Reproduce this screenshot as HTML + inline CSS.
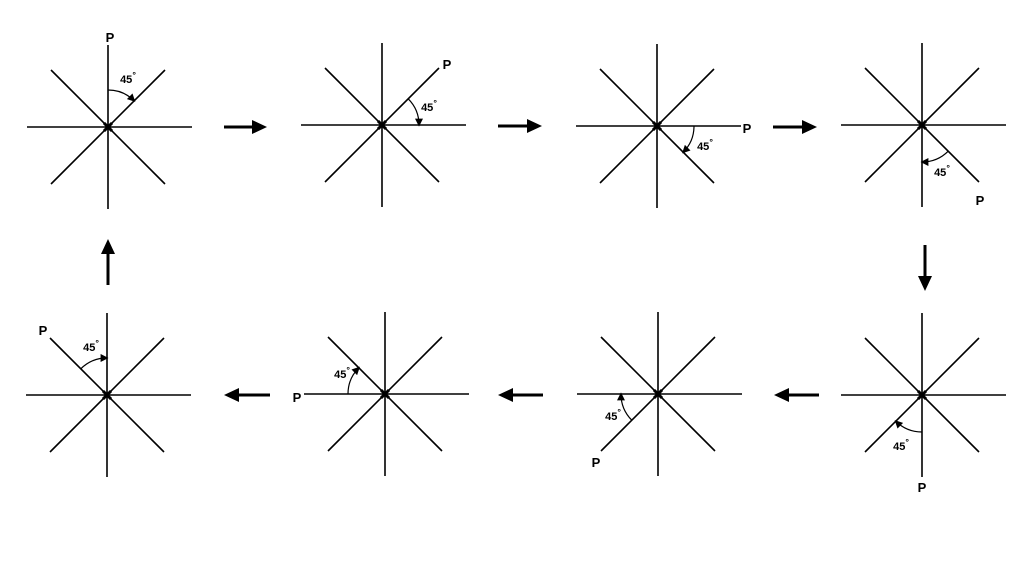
<!DOCTYPE html>
<html><head><meta charset="utf-8"><style>
html,body{margin:0;padding:0;background:#fff;}
svg{display:block;}
text{font-family:"Liberation Sans",sans-serif;font-weight:bold;fill:#000;}
</style></head><body>
<svg width="1024" height="576" viewBox="0 0 1024 576" xmlns="http://www.w3.org/2000/svg">
<defs>
<marker id="ah" viewBox="0 0 10 10" refX="8" refY="5" markerWidth="8" markerHeight="8" orient="auto" markerUnits="userSpaceOnUse">
<path d="M0,0 L10,5 L0,10 z" fill="#000"/>
</marker>
<marker id="big" viewBox="0 0 10 10" refX="2" refY="5" markerWidth="15" markerHeight="14" orient="auto" markerUnits="userSpaceOnUse" preserveAspectRatio="none">
<path d="M0,0 L10,5 L0,10 z" fill="#000"/>
</marker>
<g id="star" stroke="#000" stroke-width="1.6">
<line x1="-81" y1="0" x2="84" y2="0"/>
<line x1="0" y1="-82" x2="0" y2="82"/>
<line x1="-57" y1="-57" x2="57" y2="57"/>
<line x1="-57" y1="57" x2="57" y2="-57"/>
<path d="M-4,-4 L4,4 M-4,4 L4,-4" stroke-width="3"/>
</g>
</defs>

<g transform="translate(108,127)">
<use href="#star"/>
<path d="M0,-37 A37 37 0 0 1 26.2,-26.2" fill="none" stroke="#000" stroke-width="1.2" marker-end="url(#ah)"/>
<text x="20" y="-44" font-size="11" text-anchor="middle">45<tspan font-size="9" dy="-5">°</tspan></text>
<text x="2" y="-85" font-size="13" text-anchor="middle">P</text>
</g>
<g transform="translate(382,125)">
<use href="#star"/>
<path d="M26.2,-26.2 A37 37 0 0 1 37,0" fill="none" stroke="#000" stroke-width="1.2" marker-end="url(#ah)"/>
<text x="47" y="-14" font-size="11" text-anchor="middle">45<tspan font-size="9" dy="-5">°</tspan></text>
<text x="65" y="-56" font-size="13" text-anchor="middle">P</text>
</g>
<g transform="translate(657,126)">
<use href="#star"/>
<path d="M37,0 A37 37 0 0 1 26.2,26.2" fill="none" stroke="#000" stroke-width="1.2" marker-end="url(#ah)"/>
<text x="48" y="24" font-size="11" text-anchor="middle">45<tspan font-size="9" dy="-5">°</tspan></text>
<text x="90" y="7" font-size="13" text-anchor="middle">P</text>
</g>
<g transform="translate(922,125)">
<use href="#star"/>
<path d="M26.2,26.2 A37 37 0 0 1 0,37" fill="none" stroke="#000" stroke-width="1.2" marker-end="url(#ah)"/>
<text x="20" y="51" font-size="11" text-anchor="middle">45<tspan font-size="9" dy="-5">°</tspan></text>
<text x="58" y="80" font-size="13" text-anchor="middle">P</text>
</g>
<g transform="translate(922,395)">
<use href="#star"/>
<path d="M0,37 A37 37 0 0 1 -26.2,26.2" fill="none" stroke="#000" stroke-width="1.2" marker-end="url(#ah)"/>
<text x="-21" y="55" font-size="11" text-anchor="middle">45<tspan font-size="9" dy="-5">°</tspan></text>
<text x="0" y="97" font-size="13" text-anchor="middle">P</text>
</g>
<g transform="translate(658,394)">
<use href="#star"/>
<path d="M-26.2,26.2 A37 37 0 0 1 -37,0" fill="none" stroke="#000" stroke-width="1.2" marker-end="url(#ah)"/>
<text x="-45" y="26" font-size="11" text-anchor="middle">45<tspan font-size="9" dy="-5">°</tspan></text>
<text x="-62" y="73" font-size="13" text-anchor="middle">P</text>
</g>
<g transform="translate(385,394)">
<use href="#star"/>
<path d="M-37,0 A37 37 0 0 1 -26.2,-26.2" fill="none" stroke="#000" stroke-width="1.2" marker-end="url(#ah)"/>
<text x="-43" y="-16" font-size="11" text-anchor="middle">45<tspan font-size="9" dy="-5">°</tspan></text>
<text x="-88" y="8" font-size="13" text-anchor="middle">P</text>
</g>
<g transform="translate(107,395)">
<use href="#star"/>
<path d="M-26.2,-26.2 A37 37 0 0 1 0,-37" fill="none" stroke="#000" stroke-width="1.2" marker-end="url(#ah)"/>
<text x="-16" y="-44" font-size="11" text-anchor="middle">45<tspan font-size="9" dy="-5">°</tspan></text>
<text x="-64" y="-60" font-size="13" text-anchor="middle">P</text>
</g>

<g stroke="#000" stroke-width="3" marker-end="url(#big)">
<line x1="224" y1="127" x2="255" y2="127"/>
<line x1="498" y1="126" x2="530" y2="126"/>
<line x1="773" y1="127" x2="805" y2="127"/>
<line x1="925" y1="245" x2="925" y2="279"/>
<line x1="819" y1="395" x2="786" y2="395"/>
<line x1="543" y1="395" x2="510" y2="395"/>
<line x1="270" y1="395" x2="236" y2="395"/>
<line x1="108" y1="285" x2="108" y2="251"/>
</g>
</svg>
</body></html>
